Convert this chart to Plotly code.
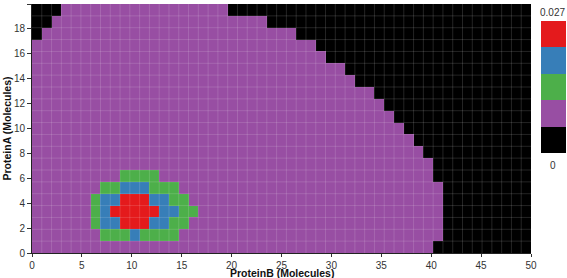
import numpy as np
import plotly.graph_objects as go

# grid of molecule counts
protein_b = list(range(51))   # columns (x)
protein_a = list(range(21))   # rows (y)

# per row (ProteinA = 0..20): first ProteinB column that is black on the right
right_black_start = [41, 42, 42, 42, 42, 42, 41, 41, 40, 39, 38,
                     37, 36, 35, 33, 32, 30, 29, 27, 24, 20]
# per row: number of black columns on the left edge
left_black_count = [0] * 18 + [1, 2, 3]

# hot spot, rows 0..6, columns 0..17 (K black, P purple, G green, B blue, R red)
cluster_rows = [
    "PPPPPPPPPPPPPPPPPP",
    "PPPPPPPGGGBGGGGPPP",
    "PPPPPPGBBRRRBBGGPP",
    "PPPPPPGBRRRRRBBGGP",
    "PPPPPPGBBRRRBBGGPP",
    "PPPPPPPGGBBBGGGPPP",
    "PPPPPPPPPGGGGPPPPP",
]

zmax = 0.027
levels = "KPGBR"
level_colors = ["#000000", "#984ea3", "#4daf4a", "#377eb8", "#e41a1c"]

z = np.ones((len(protein_a), len(protein_b)), dtype=int)
for r in protein_a:
    z[r, right_black_start[r]:] = 0
    z[r, :left_black_count[r]] = 0
for r, row in enumerate(cluster_rows):
    for c, ch in enumerate(row):
        z[r, c] = levels.index(ch)
prob = (z + 0.5) * zmax / len(levels)

n = len(levels)
colorscale = []
for i, col in enumerate(level_colors):
    colorscale += [[i / n, col], [(i + 1) / n, col]]

x_edges = np.linspace(0, 50, len(protein_b) + 1)
y_edges = np.linspace(0, 20, len(protein_a) + 1)

fig = go.Figure(go.Heatmap(
    x=x_edges, y=y_edges, z=prob,
    zmin=0, zmax=zmax, colorscale=colorscale,
    colorbar=dict(x=1.02, xanchor="left", y=0.668, yanchor="middle",
                  len=132, lenmode="pixels", thickness=25,
                  showticklabels=False, ticks="", outlinewidth=0,
                  xpad=0, ypad=0),
    hoverinfo="skip",
))

# faint grid over the cells
for xv in x_edges[1:-1]:
    fig.add_shape(type="line", x0=xv, x1=xv, y0=0, y1=20, layer="above",
                  line=dict(color="rgba(255,255,255,0.14)", width=1))
for yv in y_edges[1:-1]:
    fig.add_shape(type="line", x0=0, x1=50, y0=yv, y1=yv, layer="above",
                  line=dict(color="rgba(255,255,255,0.14)", width=1))

tick_font = dict(family="Liberation Sans, Arial, sans-serif", size=10, color="#333")
title_font = dict(family="Liberation Sans, Arial, sans-serif", size=10.5, color="#111")

fig.update_layout(
    width=567, height=278,
    margin=dict(l=32, r=36, t=4, b=25, autoexpand=False),
    paper_bgcolor="white", plot_bgcolor="white",
    showlegend=False,
    xaxis=dict(range=[0, 50], tick0=0, dtick=5, ticks="outside", ticklen=3,
               tickcolor="#333", showline=True, linecolor="#222", linewidth=1,
               showgrid=False, zeroline=False, tickfont=tick_font, automargin=False),
    yaxis=dict(range=[0, 20], tick0=0, dtick=2, ticks="outside", ticklen=4,
               tickcolor="#333", showline=True, linecolor="#222", linewidth=1,
               showgrid=False, zeroline=False, tickfont=tick_font, automargin=False),
    annotations=[
        dict(text=str(zmax), x=1.044, y=0.964, xref="paper", yref="paper",
             showarrow=False, font=tick_font, xanchor="center", yanchor="middle"),
        dict(text="0", x=1.044, y=0.353, xref="paper", yref="paper",
             showarrow=False, font=tick_font, xanchor="center", yanchor="middle"),
        dict(text="<b>ProteinB (Molecules)</b>", x=0.5, y=0, xref="paper", yref="paper",
             yshift=-19.5, showarrow=False, font=title_font,
             xanchor="center", yanchor="middle"),
        dict(text="<b>ProteinA (Molecules)</b>", x=0, y=0.5, xref="paper", yref="paper",
             xshift=-26, textangle=-90, showarrow=False, font=title_font,
             xanchor="center", yanchor="middle"),
    ],
)

fig.write_html("out.html", config={"displayModeBar": False},
               post_script="document.body.style.margin='0';document.body.style.overflow='hidden';")
